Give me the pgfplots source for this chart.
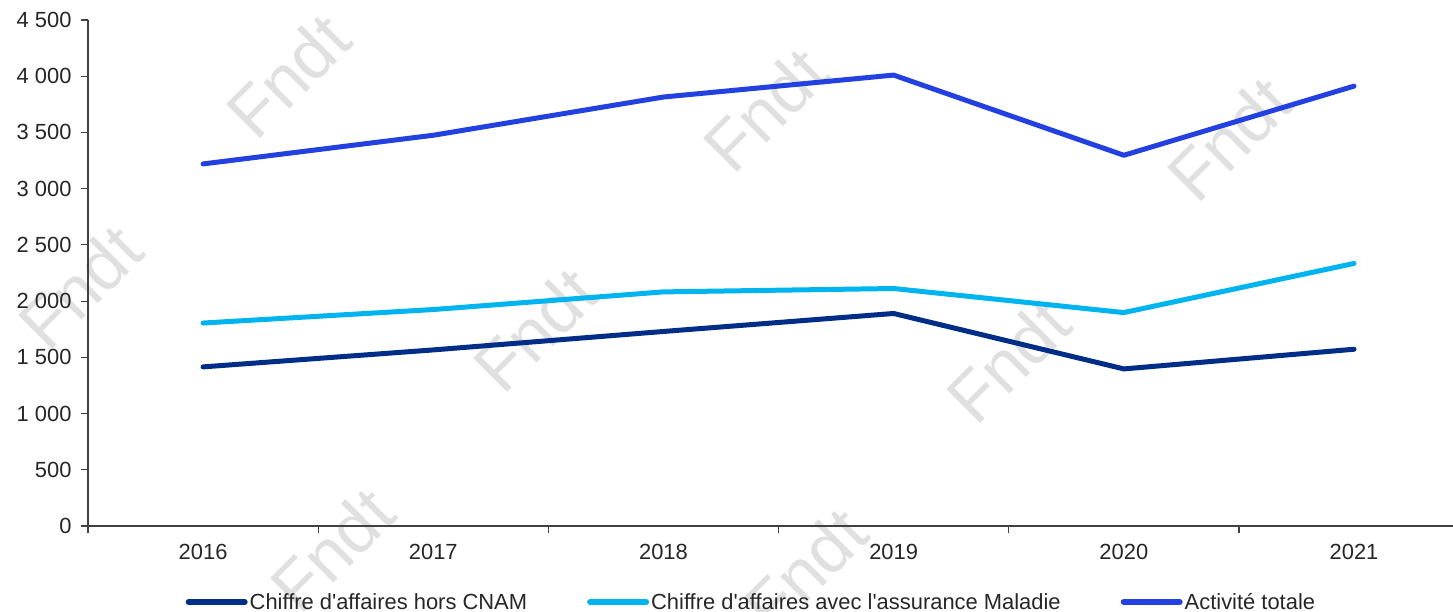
\documentclass[border=0pt]{standalone}
\usepackage{fontspec}
\setmainfont{Liberation Sans}
\usepackage{pgfplots}
\pgfplotsset{compat=1.18}
\definecolor{horscnam}{RGB}{0,45,135}
\definecolor{aveccnam}{RGB}{0,180,240}
\definecolor{totale}{RGB}{35,65,225}
\definecolor{axisgray}{RGB}{64,64,64}
\definecolor{wm}{RGB}{224,224,224}

\begin{document}
\begin{tikzpicture}
% filigrane
\foreach \x/\y in {288/536, 80/325, 332/62, 765/502, 535/282, 1008/251, 1229/473, 805/42}
  \node[rotate=45, text=wm, font=\fontsize{70}{70}\selectfont] at ({\x*1bp},{\y*1bp}) {Fndt};

\begin{axis}[%
at={(88bp,86bp)}, anchor=south west,
scale only axis, width=1365bp, height=506bp,
xmin=-0.5, xmax=5.43,
ymin=0, ymax=4500,
axis lines=left,
axis line style={axisgray, line width=1.2bp, -},
xtick={0,1,2,3,4,5},
xticklabels={2016,2017,2018,2019,2020,2021},
minor xtick={-0.5,0.5,1.5,2.5,3.5,4.5},
ytick={0,500,1000,1500,2000,2500,3000,3500,4000,4500},
yticklabels={0,500,1 000,1 500,2 000,2 500,3 000,3 500,4 000,4 500},
tick align=outside,
major tick length=7bp, minor tick length=7bp,
tick style={axisgray, line width=1.2bp},
major x tick style={draw=none},
ticklabel style={font=\fontsize{22}{24}\selectfont, text=black!85},
yticklabel style={anchor=east, xshift=-6bp},
xticklabel style={anchor=north, yshift=-8bp},
legend columns=3,
legend style={at={(0.486,0)}, anchor=center, yshift=-76bp, draw=none, fill=none,
  font=\fontsize{22}{24}\selectfont, text=black!85,
  nodes={inner sep=2bp},
  /tikz/every even column/.append style={column sep=58bp}},
legend image code/.code={\draw[#1, line width=6bp, line cap=round] (0bp,0bp) -- (56bp,0bp);},
every axis plot/.append style={line width=5bp, line join=round, line cap=round, mark=none},
]
\addplot [color=horscnam] coordinates {(0,1415)(1,1566)(2,1730)(3,1890)(4,1397)(5,1572)};
\addlegendentry{Chiffre d\textquotesingle affaires hors CNAM};
\addplot [color=aveccnam] coordinates {(0,1805)(1,1925)(2,2082)(3,2112)(4,1898)(5,2335)};
\addlegendentry{Chiffre d\textquotesingle affaires avec l\textquotesingle assurance Maladie};
\addplot [color=totale] coordinates {(0,3220)(1,3475)(2,3815)(3,4010)(4,3297)(5,3912)};
\addlegendentry{Activité totale};
\end{axis}
\pgfresetboundingbox
\useasboundingbox (0,0) rectangle (1453bp,612bp);
\end{tikzpicture}
\end{document}
